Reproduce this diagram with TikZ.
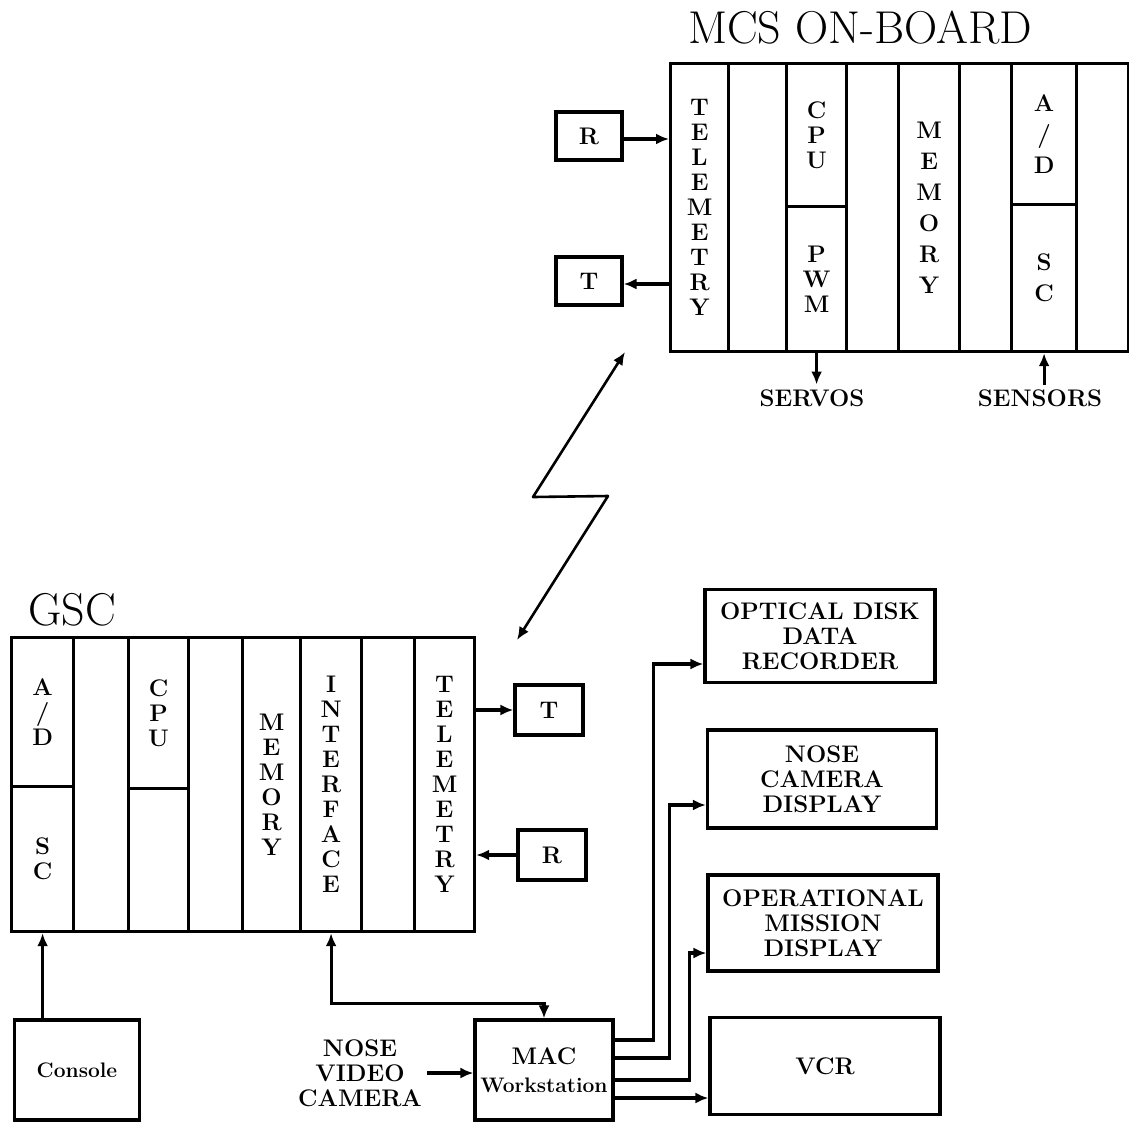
\documentclass[tikz,border=0pt]{standalone}
\usepackage{tikz}
\usetikzlibrary{arrows.meta,positioning,shapes}
\newcommand\ttlfont{\fontsize{46}{50}\selectfont}
\newcommand\lblfont{\fontsize{24}{25}\selectfont\bfseries}
\newcommand\widefont{\fontsize{24}{31}\selectfont\bfseries}
\newcommand\smlfont{\fontsize{21}{28}\selectfont\bfseries}

\begin{document}
\begin{tikzpicture}[x=1pt,y=-1pt,line width=3.2pt,
  col/.style={draw,inner sep=0pt,anchor=north west,align=center,font=\lblfont},
  frame/.style={draw,inner sep=0pt,anchor=north west},
  box/.style={draw,inner sep=0pt,align=center,font=\lblfont},
  arr/.style={-{Latex[length=13pt,width=11pt]}},
  biarr/.style={{Latex[length=13pt,width=11pt]}-{Latex[length=13pt,width=11pt]}}]
\useasboundingbox (0,0) rectangle (1129,1125);
\clip (0,0) rectangle (1129,1125);

% on-board computer
\node (mcstitle) at (860,28) {\ttlfont MCS ON-BOARD};
\node[frame,minimum width=491pt,minimum height=288pt] (mcs) at (669,62) {};
\node[col,minimum width=58pt,minimum height=288pt] (mtel) at (669,62) {T\\E\\L\\E\\M\\E\\T\\R\\Y};
\node[col,minimum width=58pt,minimum height=288pt] (mc2) at (727,62) {};
\node[col,minimum width=60pt,minimum height=143pt] (mcpu) at (785,62) {C\\P\\U};
\node[col,minimum width=60pt,minimum height=145pt] (mpwm) at (785,205) {P\\W\\M};
\node[col,minimum width=52pt,minimum height=288pt] (mc4) at (845,62) {};
\node[col,font=\widefont,minimum width=61pt,minimum height=288pt] (mmem) at (897,62) {M\\E\\M\\O\\R\\Y};
\node[col,minimum width=52pt,minimum height=288pt] (mc6) at (958,62) {};
\node[col,font=\widefont,minimum width=65pt,minimum height=141pt] (mad) at (1010,62) {A\\/\\D};
\node[col,font=\widefont,minimum width=65pt,minimum height=147pt] (msc) at (1010,203) {S\\C};
\node[col,minimum width=52pt,minimum height=288pt] (mc8) at (1075,62) {};

\node[box,minimum width=66pt,minimum height=48pt] (rm) at (589,136) {R};
\node[box,minimum width=66pt,minimum height=48pt] (tm) at (589,281) {T};
\draw[arr] ([yshift=-3pt]rm.east) -- ([yshift=-3pt]rm.east -| mtel.west);
\draw[arr] ([yshift=-3pt]tm.east -| mtel.west) -- ([yshift=-3pt]tm.east);

\node[font=\lblfont] (servos) at (812,398) {SERVOS};
\node[font=\lblfont] (sensors) at (1040,398) {SENSORS};
\draw[arr] (mpwm.south) -- (mpwm.south |- servos.north);
\draw[arr] (msc.south |- sensors.north) -- (msc.south);

% radio link
\coordinate (zt) at (625,352);
\coordinate (za) at (533,497);
\coordinate (zb) at (608,496);
\coordinate (zs) at (517,640);
\draw[biarr,line width=2.6pt,line join=round] (zs) -- (zb) -- (za) -- (zt);

% ground station
\node (gsctitle) at (72,610) {\ttlfont GSC};
\node[frame,minimum width=463pt,minimum height=294pt] (gsc) at (10,636) {};
\node[col,minimum width=62pt,minimum height=149pt] (gad) at (10,636) {A\\/\\D};
\node[col,minimum width=62pt,minimum height=145pt] (gsc2) at (10,785) {S\\C};
\node[col,minimum width=55pt,minimum height=294pt] (gc2) at (72,636) {};
\node[col,minimum width=60pt,minimum height=151pt] (gcpu) at (127,636) {C\\P\\U};
\node[col,minimum width=60pt,minimum height=143pt] (gcpu2) at (127,787) {};
\node[col,minimum width=54pt,minimum height=294pt] (gc4) at (187,636) {};
\node[col,minimum width=58pt,minimum height=294pt] (gmem) at (241,636) {M\\E\\M\\O\\R\\Y};
\node[col,minimum width=61pt,minimum height=294pt] (gint) at (299,636) {I\\N\\T\\E\\R\\F\\A\\C\\E};
\node[col,minimum width=53pt,minimum height=294pt] (gc7) at (360,636) {};
\node[col,minimum width=60pt,minimum height=294pt] (gtel) at (413,636) {T\\E\\L\\E\\M\\E\\T\\R\\Y};

\node[box,minimum width=68pt,minimum height=50pt] (tg) at (549,710) {T};
\node[box,minimum width=68pt,minimum height=50pt] (rg) at (552,855) {R};
\draw[arr] (gtel.east |- tg.west) -- (tg.west);
\draw[arr] (rg.west) -- (rg.west -| gtel.east);

\node[box,font=\smlfont,minimum width=125pt,minimum height=100pt] (con) at (77,1070) {Console};
\draw[arr] (gsc2.south |- con.north) -- (gsc2.south);

\node[box,font=\smlfont,minimum width=138pt,minimum height=100pt] (mac) at (544,1070) {{\lblfont MAC}\\Workstation};
\draw[biarr] (gint.south) -- ++(0,70) -| (mac.north);

\node[align=center,font=\lblfont] (nvc) at (360,1073) {NOSE\\VIDEO\\CAMERA};
\draw[arr] (nvc.east) -- (nvc.east -| mac.west);

% recorders and displays
\node[box,minimum width=230pt,minimum height=93pt] (oddr) at (820,636) {OPTICAL DISK\\DATA\\RECORDER};
\node[box,minimum width=229pt,minimum height=98pt] (ncd) at (822,779) {NOSE\\CAMERA\\DISPLAY};
\node[box,minimum width=230pt,minimum height=96pt] (omd) at (823,923) {OPERATIONAL\\MISSION\\DISPLAY};
\node[box,minimum width=230pt,minimum height=97pt] (vcr) at (825,1066) {VCR};

\draw[arr] ([yshift=30pt]mac.east) -- ++(39,0) |- ([yshift=-28pt]oddr.west);
\draw[arr] ([yshift=12pt]mac.east) -- ++(55,0) |- ([yshift=-26pt]ncd.west);
\draw[arr] ([yshift=-10pt]mac.east) -- ++(75,0) |- ([yshift=-30pt]omd.west);
\draw[arr] ([yshift=-28pt]mac.east) -- ([yshift=-28pt]mac.east -| vcr.west);
\end{tikzpicture}
\end{document}
